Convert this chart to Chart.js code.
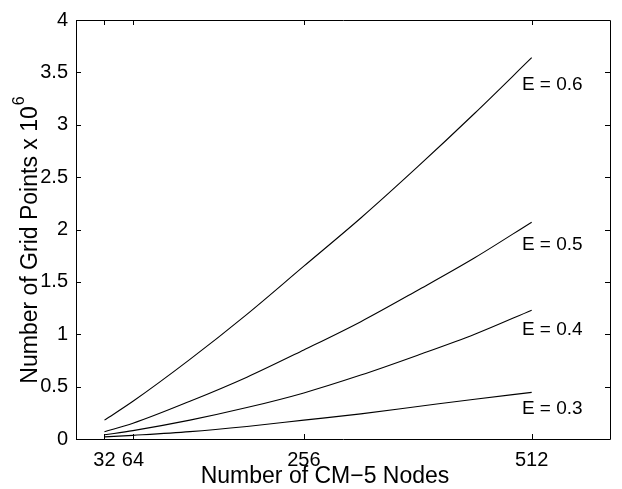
<!DOCTYPE html>
<html>
<head>
<meta charset="utf-8">
<title>Grid points vs CM-5 nodes</title>
<script src="https://cdn.jsdelivr.net/npm/chart.js@4.4.0/dist/chart.umd.min.js"></script>
<style>
  html, body { margin: 0; padding: 0; background: #ffffff; }
  #wrap { width: 622px; height: 489px; }
</style>
</head>
<body>
<div id="wrap"><canvas id="c" width="622" height="489"></canvas></div>
<script>
// Node counts at which the grid size was evaluated
const nodes = [32, 64, 128, 192, 256, 320, 384, 448, 512];

// Grid points (millions) reachable at each efficiency level
const effLabels = ['E = 0.6', 'E = 0.5', 'E = 0.4', 'E = 0.3'];
const gridE06 = [0.18, 0.36, 0.76, 1.19, 1.65, 2.11, 2.60, 3.11, 3.64];
const gridE05 = [0.07, 0.15, 0.36, 0.59, 0.85, 1.12, 1.42, 1.73, 2.07];
const gridE04 = [0.04, 0.08, 0.18, 0.30, 0.44, 0.61, 0.80, 1.00, 1.23];
const gridE03 = [0.02, 0.035, 0.07, 0.12, 0.18, 0.24, 0.31, 0.38, 0.445];

// Axis tick values
const xTickValues = [32, 64, 256, 512];
const yTickValues = [0, 0.5, 1, 1.5, 2, 2.5, 3, 3.5, 4];

const FONT = '"Liberation Sans", Arial, Helvetica, sans-serif';

const series = [gridE06, gridE05, gridE04, gridE03];

// Where each curve's name is written (data coordinates of the text's left/middle)
const labelAnchors = [
  { x: 501, y: 3.38 },
  { x: 501, y: 1.857 },
  { x: 501, y: 1.045 },
  { x: 501, y: 0.29 }
];

// Box frame with inward-pointing tick marks on all four sides, plus axis titles
const framePlugin = {
  id: 'frame',
  afterDraw(chart) {
    const { ctx, chartArea: a } = chart;
    const xs = chart.scales.x, ys = chart.scales.y;
    const tl = 5;
    ctx.save();
    ctx.strokeStyle = '#000';
    ctx.lineWidth = 1;
    ctx.beginPath();
    ctx.rect(Math.round(a.left) + 0.5, Math.round(a.top) + 0.5,
             Math.round(a.right - a.left), Math.round(a.bottom - a.top));
    xTickValues.forEach(v => {
      const px = Math.round(xs.getPixelForValue(v)) + 0.5;
      ctx.moveTo(px, a.bottom); ctx.lineTo(px, a.bottom - tl);
      ctx.moveTo(px, a.top); ctx.lineTo(px, a.top + tl);
    });
    yTickValues.forEach(v => {
      const py = Math.round(ys.getPixelForValue(v)) + 0.5;
      ctx.moveTo(a.left, py); ctx.lineTo(a.left + tl, py);
      ctx.moveTo(a.right, py); ctx.lineTo(a.right - tl, py);
    });
    ctx.stroke();

    // curve names
    ctx.fillStyle = '#000';
    ctx.font = '19px ' + FONT;
    ctx.textAlign = 'left';
    ctx.textBaseline = 'middle';
    labelAnchors.forEach((p, i) => {
      ctx.fillText(effLabels[i], xs.getPixelForValue(p.x), ys.getPixelForValue(p.y));
    });

    // x title
    ctx.font = '23px ' + FONT;
    ctx.textAlign = 'center';
    ctx.fillText('Number of CM\u22125 Nodes', 325, 477);

    // y title with superscript exponent
    const main = 'Number of Grid Points x 10';
    const sup = '6';
    ctx.font = '23px ' + FONT;
    const wMain = ctx.measureText(main).width;
    ctx.font = '16px ' + FONT;
    const wSup = ctx.measureText(sup).width;
    const total = wMain + wSup + 1;
    ctx.translate(31, 240);
    ctx.rotate(-Math.PI / 2);
    ctx.textAlign = 'left';
    ctx.font = '23px ' + FONT;
    ctx.fillText(main, -total / 2, 0);
    ctx.font = '16px ' + FONT;
    ctx.fillText(sup, -total / 2 + wMain + 1, -11);
    ctx.restore();
  }
};

const datasets = series.map((vals, i) => ({
  label: effLabels[i],
  data: nodes.map((n, k) => ({ x: n, y: vals[k] })),
  borderColor: '#000',
  borderWidth: 1.1,
  pointRadius: 0,
  fill: false,
  tension: 0,
  cubicInterpolationMode: 'monotone'
}));

new Chart(document.getElementById('c'), {
  type: 'line',
  data: { datasets },
  options: {
    responsive: false,
    animation: false,
    events: [],
    layout: { padding: { top: 14, right: 12, left: 0, bottom: 0 } },
    plugins: { legend: { display: false }, tooltip: { enabled: false } },
    scales: {
      x: {
        type: 'linear',
        min: 0,
        max: 600,
        grid: { display: false, drawTicks: false },
        border: { display: false },
        afterBuildTicks: s => { s.ticks = xTickValues.map(v => ({ value: v })); },
        afterFit: s => { s.height = 50; },
        ticks: {
          autoSkip: false,
          maxRotation: 0,
          padding: 9,
          color: '#000',
          font: { family: FONT, size: 20 }
        }
      },
      y: {
        min: 0,
        max: 4,
        grid: { display: false, drawTicks: false },
        border: { display: false },
        afterBuildTicks: s => { s.ticks = yTickValues.map(v => ({ value: v })); },
        afterFit: s => { s.width = 76; },
        ticks: {
          padding: 8,
          color: '#000',
          font: { family: FONT, size: 20 },
          callback: v => String(v)
        }
      }
    }
  },
  plugins: [framePlugin]
});
</script>
</body>
</html>
